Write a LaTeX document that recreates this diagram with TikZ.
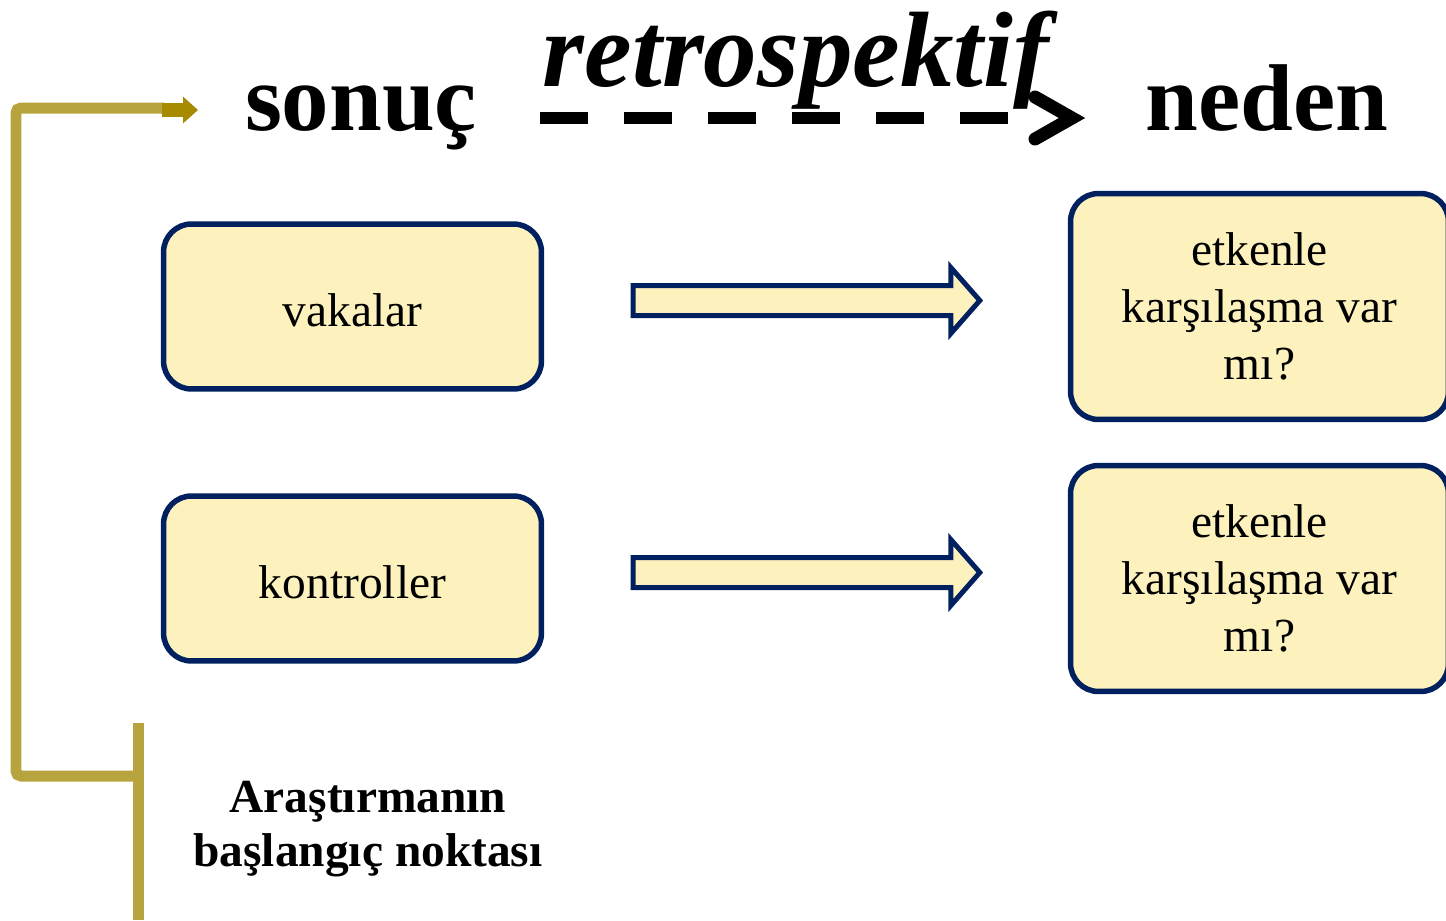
\documentclass[tikz,border=0pt]{standalone}
\usepackage{fontspec}
\setmainfont{Liberation Serif}
\usetikzlibrary{arrows.meta,calc}

\definecolor{boxfill}{HTML}{FDF1BD}
\definecolor{boxline}{HTML}{002060}
\definecolor{gold}{HTML}{B8A43E}
\definecolor{golddark}{HTML}{A68A00}

% hollow block arrow between two points
\newcommand\blockarr[2]{%
  \draw[blockarrow] ($(#1)+(0,-15)$) -- ($(#2)+(-29,-15)$) -- ($(#2)+(-29,-33)$)
    -- (#2) -- ($(#2)+(-29,33)$) -- ($(#2)+(-29,15)$) -- ($(#1)+(0,15)$) -- cycle;}

\begin{document}
\begin{tikzpicture}[x=0.02cm,y=-0.02cm,
  box/.style={draw=boxline,fill=boxfill,line width=0.11cm,rounded corners=0.56cm,
    minimum width=7.56cm,align=center,inner sep=0pt,
    font=\fontsize{27}{32.5}\selectfont},
  blockarrow/.style={draw=boxline,fill=boxfill,line width=0.1cm},
  bracket/.style={draw=gold,line width=0.22cm,rounded corners=0.1cm},
  title/.style={font=\fontsize{54}{60}\selectfont\bfseries,anchor=base,inner sep=0pt}]
\useasboundingbox (0,0) rectangle (1446,920);

% headings
\node[title] (sonuc) at (361,130) {sonuç};
\node[title] (neden) at (1267,130) {neden};
\node[title,font=\fontsize{61}{67}\selectfont\bfseries\itshape] (retro) at (796,86) {retrospektif};

% dashed arrow under the heading
\coordinate (dstart) at (540,118);
\coordinate (dend) at (1072,118);
\draw[line width=0.24cm,dash pattern=on 0.96cm off 0.72cm] (dstart) -- ($(dend)+(-30,0)$);
\draw[line width=0.26cm,line cap=round,miter limit=10]
  ($(dend)+(-37,-21)$) -- (dend) -- ($(dend)+(-37,21)$);

% groups and questions
\node[box,minimum height=3.3cm,text height=0.8cm] (vaka) at (352.5,306.5) {vakalar};
\node[box,minimum height=3.3cm,text height=0.8cm] (kont) at (352.5,578.5) {kontroller};
\node[box,minimum height=4.52cm] (etk1) at (1259.5,306.5) {etkenle\\karşılaşma var\\mı?};
\node[box,minimum height=4.52cm] (etk2) at (1259.5,578.5) {etkenle\\karşılaşma var\\mı?};

\coordinate (a1s) at ($(vaka.east)+(89,-6)$);
\coordinate (a1e) at ($(etk1.west)+(-88,-6)$);
\coordinate (a2s) at ($(kont.east)+(89,-6)$);
\coordinate (a2e) at ($(etk2.west)+(-88,-6)$);
\blockarr{a1s}{a1e}
\blockarr{a2s}{a2e}

% starting point bracket
\node[font=\fontsize{27}{31}\selectfont\bfseries,align=center,inner sep=0pt]
  (start) at (368,829) {Araştırmanın\\başlangıç noktası};
\coordinate (kok) at (138,776);
\coordinate (gtip) at (198,110);
\draw[bracket] (138,723) -- (138,920);
\draw[bracket] (kok) -- (16,776) -- (16,108) -- (164,108);
\draw[golddark,line width=0.28cm,-{Triangle[length=0.3cm,width=0.52cm]}] (162,110) -- (gtip);
\end{tikzpicture}
\end{document}
